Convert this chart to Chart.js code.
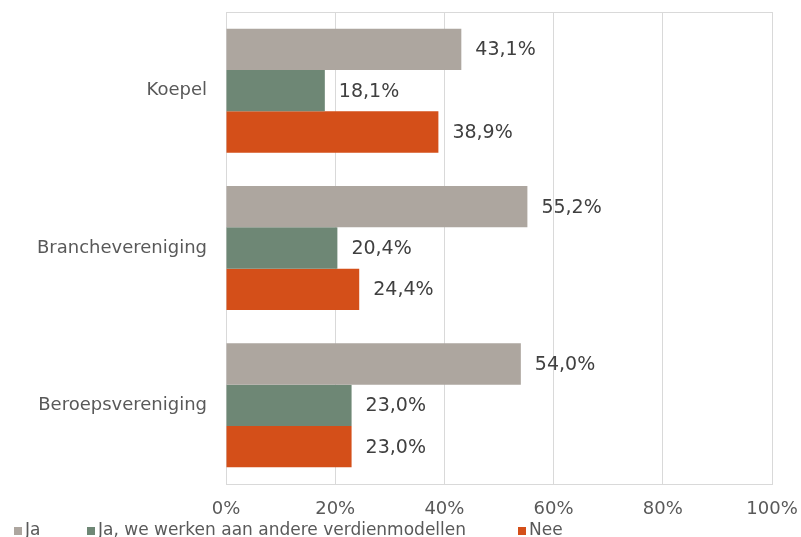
<!DOCTYPE html>
<html>
<head>
<meta charset="utf-8">
<script src="https://cdn.jsdelivr.net/npm/chart.js@4"></script>
<style>
  html, body { margin: 0; padding: 0; background: #ffffff; }
  #wrap { width: 801px; height: 537px; position: relative; }
</style>
</head>
<body>
<div id="wrap"><canvas id="c" width="801" height="537"></canvas></div>
<script>
const categories = ["Koepel", "Branchevereniging", "Beroepsvereniging"];
const seriesNames = ["Ja", "Ja, we werken aan andere verdienmodellen", "Nee"];
const jaValues = [43.1, 55.2, 54.0];
const jaWeValues = [18.1, 20.4, 23.0];
const neeValues = [38.9, 24.4, 23.0];
const xTicks = [0, 20, 40, 60, 80, 100];

const colors = ["#ADA69F", "#6E8775", "#D44F19"];
const FONT = "'DejaVu Sans', Verdana, sans-serif";
const legendX = [14, 87, 518];

const dataLabels = {
  id: 'dataLabels',
  afterDatasetsDraw(chart) {
    const ctx = chart.ctx;
    ctx.save();
    ctx.font = "19px " + FONT;
    ctx.fillStyle = "#404040";
    ctx.textAlign = "left";
    ctx.textBaseline = "middle";
    chart.data.datasets.forEach((ds, i) => {
      const meta = chart.getDatasetMeta(i);
      meta.data.forEach((el, j) => {
        const v = ds.data[j];
        ctx.fillText(v.toFixed(1).replace('.', ',') + '%', el.x + 14, el.y + 1);
      });
    });
    ctx.restore();
  }
};

const frame = {
  id: 'frame',
  beforeDatasetsDraw(chart) {
    const a = chart.chartArea, ctx = chart.ctx;
    ctx.save();
    ctx.strokeStyle = "#D9D9D9";
    ctx.lineWidth = 1;
    ctx.strokeRect(Math.round(a.left) + 0.5, Math.round(a.top) + 0.5, Math.round(a.right - a.left), Math.round(a.bottom - a.top));
    ctx.restore();
  }
};

const legendPlugin = {
  id: 'customLegend',
  afterDraw(chart) {
    const ctx = chart.ctx;
    ctx.save();
    ctx.font = "17px " + FONT;
    ctx.textBaseline = "middle";
    ctx.textAlign = "left";
    chart.data.datasets.forEach((ds, i) => {
      const x = legendX[i];
      ctx.fillStyle = ds.backgroundColor;
      ctx.fillRect(x, 527, 8, 8);
      ctx.fillStyle = "#595959";
      ctx.fillText(ds.label, x + 11, 531);
    });
    ctx.restore();
  }
};

new Chart(document.getElementById('c'), {
  type: 'bar',
  data: {
    labels: categories,
    datasets: [
      { label: seriesNames[0], data: jaValues, backgroundColor: colors[0] },
      { label: seriesNames[1], data: jaWeValues, backgroundColor: colors[1] },
      { label: seriesNames[2], data: neeValues, backgroundColor: colors[2] }
    ]
  },
  options: {
    indexAxis: 'y',
    responsive: false,
    animation: false,
    devicePixelRatio: 1,
    categoryPercentage: 0.788,
    barPercentage: 1.0,
    layout: { padding: { top: 12, right: 29, left: 0, bottom: 0 } },
    plugins: {
      legend: { display: false },
      tooltip: { enabled: false }
    },
    scales: {
      x: {
        min: 0, max: 100,
        afterBuildTicks(scale) { scale.ticks = xTicks.map(v => ({ value: v })); },
        afterFit(scale) { scale.height = 53; scale.paddingLeft = 0; scale.paddingRight = 0; },
        grid: { color: "#D9D9D9", drawTicks: false },
        border: { color: "#D9D9D9" },
        ticks: {
          padding: 15,
          color: "#595959",
          font: { family: FONT, size: 18 },
          callback: v => v + '%',
          maxRotation: 0
        }
      },
      y: {
        afterFit(scale) { scale.width = 226; scale.paddingTop = 0; scale.paddingBottom = 0; },
        grid: { display: false },
        border: { color: "#D9D9D9" },
        ticks: {
          padding: 11,
          color: "#595959",
          font: { family: FONT, size: 18 }
        }
      }
    }
  },
  plugins: [frame, dataLabels, legendPlugin]
});
</script>
</body>
</html>
